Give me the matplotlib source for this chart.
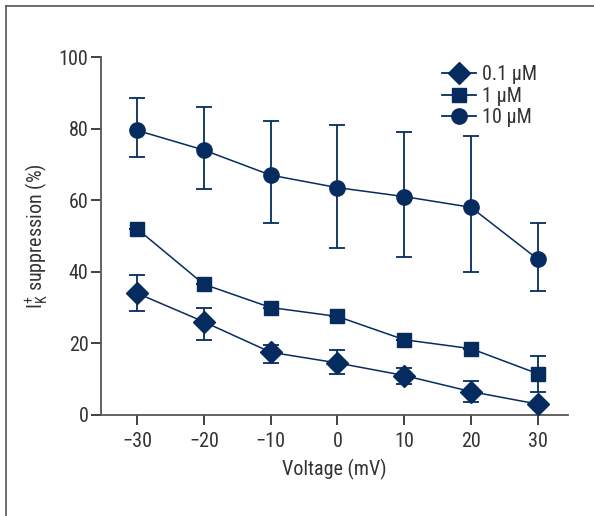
import matplotlib
matplotlib.use("Agg")
import matplotlib.pyplot as plt
from matplotlib.lines import Line2D

plt.rcParams['font.family'] = ['Liberation Sans Narrow', 'Roboto Condensed', 'DejaVu Sans']
plt.rcParams['font.stretch'] = 'condensed'

voltage = [-30, -20, -10, 0, 10, 20, 30]

# 0.1 uM
c01 = [34, 26, 17.5, 14.5, 11, 6.5, 3]
c01_lo = [5, 5, 3, 3, 2.5, 3, 0]
c01_hi = [5, 4, 2, 3.5, 2, 3, 0]

# 1 uM
c1 = [52, 36.5, 30, 27.5, 21, 18.5, 11.5]
c1_lo = [0, 0, 0, 0, 0, 0, 5]
c1_hi = [0, 0, 0, 0, 0, 0, 5]

# 10 uM
c10 = [79.5, 74, 67, 63.5, 61, 58, 43.5]
c10_lo = [7.5, 11, 13.5, 17, 17, 18, 9]
c10_hi = [9, 12, 15, 17.5, 18, 20, 10]

labels = ["0.1 µM", "1 µM", "10 µM"]
navy = '#062c5f'

fig = plt.figure(figsize=(5.94, 5.16), dpi=100)
ax = fig.add_axes([0.170, 0.196, 0.786, 0.6935])

series = [
    (c01, c01_lo, c01_hi, 'D', 11),
    (c1, c1_lo, c1_hi, 's', 10),
    (c10, c10_lo, c10_hi, 'o', 11),
]
handles = []
for (vals, lo, hi, mk, ms), lab in zip(series, labels):
    ax.errorbar(voltage, vals, yerr=[lo, hi], color=navy, marker=mk, ms=ms,
                lw=1.1, elinewidth=1.3, capsize=6, capthick=1.3, zorder=3)
    handles.append(Line2D([], [], color=navy, marker=mk, ms=ms, lw=1.3, label=lab))

ax.set_xlim(-35.4, 34.5)
ax.set_ylim(0, 100)
ax.set_xticks(voltage)
ax.set_xticklabels(["\u221230", "\u221220", "\u221210", "0", "10", "20", "30"])
ax.set_yticks([0, 20, 40, 60, 80, 100])

for s in ['top', 'right']:
    ax.spines[s].set_visible(False)
for s in ['left', 'bottom']:
    ax.spines[s].set_color('#555555')
    ax.spines[s].set_linewidth(1.3)
ax.tick_params(colors='#333333', labelsize=14.5, width=1.3, length=7)
ax.tick_params(axis='y', length=7, pad=2)
ax.tick_params(axis='x', pad=5)

ax.set_xlabel("Voltage (mV)", fontsize=14.5, color='#333333', labelpad=6)
ax.set_ylabel(r"I$_\mathregular{K}^\mathregular{+}$ suppression (%)", fontsize=14.5,
              color='#333333', labelpad=6)

leg = ax.legend(handles=handles, loc='upper right', bbox_to_anchor=(0.955, 1.005),
                frameon=False, fontsize=14.5, handlelength=1.7, handletextpad=0.3,
                labelspacing=0.12, borderpad=0)
for t in leg.get_texts():
    t.set_color('#333333')

# figure frame (left and top edges)
fig.add_artist(Line2D([0.0105, 0.0105], [0.0, 0.988], transform=fig.transFigure,
                      color='#555555', lw=1.2))
fig.add_artist(Line2D([0.0105, 1.0], [0.988, 0.988], transform=fig.transFigure,
                      color='#555555', lw=1.2))

fig.savefig("out.png", dpi=100)
